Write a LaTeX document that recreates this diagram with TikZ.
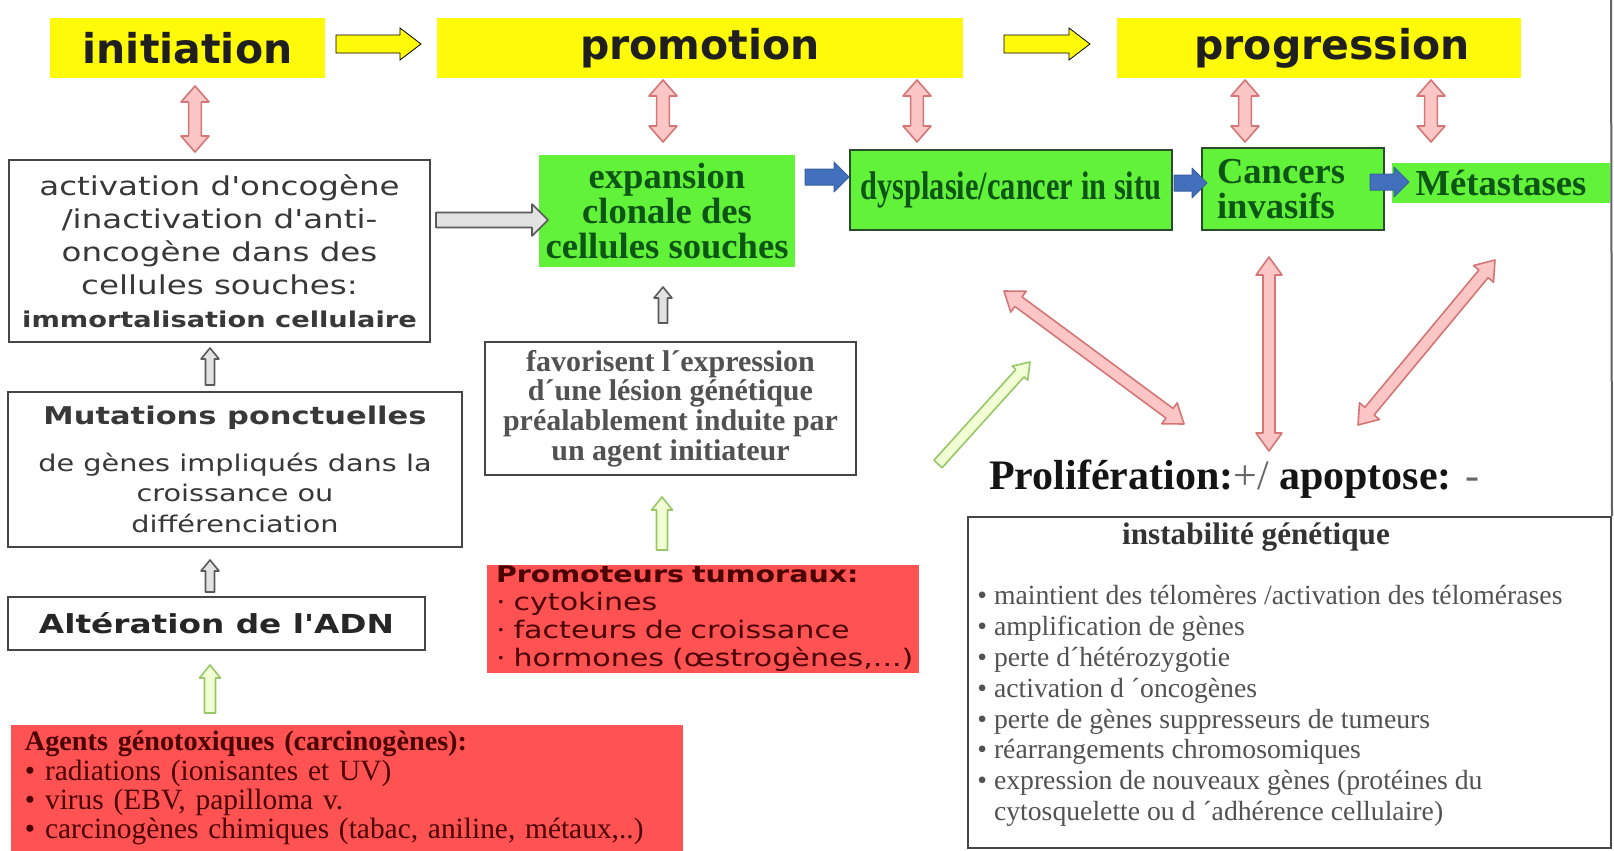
\documentclass[tikz,border=0pt]{standalone}
\usepackage{fontspec}
\usepackage{graphicx}
\setmainfont{Liberation Serif}
\newfontfamily\comic[FakeStretch=1.25]{DejaVu Sans}
\newfontfamily\stagefont{DejaVu Sans}
\usetikzlibrary{calc}

\definecolor{ylw}{RGB}{255,250,10}
\definecolor{grn}{RGB}{98,242,58}
\definecolor{dgrn}{RGB}{12,85,20}
\definecolor{gline}{RGB}{45,75,45}
\definecolor{redbox}{RGB}{255,82,82}
\definecolor{redtext}{RGB}{75,0,0}
\definecolor{pinkfill}{RGB}{252,198,198}
\definecolor{pinkline}{RGB}{212,118,118}
\definecolor{lgfill}{RGB}{242,255,212}
\definecolor{lgline}{RGB}{150,200,105}
\definecolor{grayfill}{RGB}{226,226,226}
\definecolor{grayline}{RGB}{90,90,90}
\definecolor{bluefill}{RGB}{66,112,188}
\definecolor{boxline}{RGB}{70,70,70}

% straight block arrow: style, tail, tip, shaft half width, head half width, head length
\newcommand{\blkarrow}[6]{%
  \coordinate (ba-neck) at ($(#3)!#6!(#2)$);
  \draw[#1] ($(#2)!#4!90:(#3)$) -- ($(ba-neck)!#4!-90:(#2)$) -- ($(ba-neck)!#5!-90:(#2)$)
    -- (#3) -- ($(ba-neck)!#5!90:(#2)$) -- ($(ba-neck)!#4!90:(#2)$)
    -- ($(#2)!#4!-90:(#3)$) -- cycle;
}
% two-headed block arrow: style, end, end, shaft half width, head half width, head length
\newcommand{\dblkarrow}[6]{%
  \coordinate (da-n1) at ($(#2)!#6!(#3)$);
  \coordinate (da-n2) at ($(#3)!#6!(#2)$);
  \draw[#1] (#2) -- ($(da-n1)!#5!90:(#3)$) -- ($(da-n1)!#4!90:(#3)$)
    -- ($(da-n2)!#4!-90:(#2)$) -- ($(da-n2)!#5!-90:(#2)$) -- (#3)
    -- ($(da-n2)!#5!90:(#2)$) -- ($(da-n2)!#4!90:(#2)$)
    -- ($(da-n1)!#4!-90:(#3)$) -- ($(da-n1)!#5!-90:(#3)$) -- cycle;
}

\tikzset{
  stage/.style={fill=ylw, inner sep=0pt, minimum height=30pt, text=black!88,
    font=\stagefont\bfseries\fontsize{20.5}{22}\selectfont},
  wbox/.style={draw=boxline, line width=1pt, fill=white, inner sep=0pt, align=center},
  gbox/.style={fill=grn, text=dgrn, inner sep=0pt, align=center,
    font=\bfseries\fontsize{18.3}{17.3}\selectfont},
  rbox/.style={fill=redbox, inner sep=0pt, align=left},
  pinkarr/.style={fill=pinkfill, draw=pinkline, line width=0.8pt, line join=round},
  grayarr/.style={fill=grayfill, draw=grayline, line width=0.8pt, line join=round},
  lgarr/.style={fill=lgfill, draw=lgline, line width=0.8pt, line join=round},
  bluearr/.style={fill=bluefill, draw=bluefill!85!black, line width=0.5pt, line join=round},
  ylwarr/.style={fill=ylw},
}

\begin{document}
\begin{tikzpicture}[x=0.5pt, y=-0.5pt]
\useasboundingbox (0,0) rectangle (1614,851);
\fill[white] (0,0) rectangle (1614,851);

% --- the three stages ---
\node[stage, minimum width=137.5pt] (init) at (187.5,48) {initiation};
\node[stage, minimum width=263pt] (promo) at (700,48) {promotion};
\node[stage, minimum width=202pt] (progr) at (1319,48) {\hspace*{13pt}progression};

% --- initiation column ---
\node[wbox, minimum width=210.5pt, minimum height=91pt, text=black!78,
      font=\comic\fontsize{13}{16.5}\selectfont] (act) at (219.5,251)
  {activation d'oncogène\\/inactivation d'anti-\\oncogène dans des\\cellules souches:\\
   {\bfseries\fontsize{10.9}{16.5}\selectfont immortalisation cellulaire}};
\node[wbox, minimum width=227pt, minimum height=77.5pt, text=black!78,
      font=\comic\fontsize{11.5}{15.25}\selectfont] (mut) at (235,469.5)
  {{\bfseries\fontsize{12.2}{15.25}\selectfont Mutations ponctuelles}\\[8pt]
   de gènes impliqués dans la\\croissance ou\\différenciation};
\node[wbox, minimum width=208.5pt, minimum height=26.5pt, text=black!85,
      font=\comic\bfseries\fontsize{13.1}{15}\selectfont] (alt) at (216.5,623.5)
  {Altération de l'ADN};
\node[rbox, minimum width=336pt, minimum height=63pt, inner xsep=7pt, text width=322pt,
      text=redtext, font=\fontsize{14.7}{14.6}\selectfont] (agents) at (347,788)
  {{\bfseries\fontsize{14.1}{14.6}\selectfont Agents génotoxiques (carcinogènes):}\\
   • radiations (ionisantes et UV)\\
   • virus (EBV, papilloma v.\\
   • carcinogènes chimiques (tabac, aniline, métaux,..)};

% --- promotion column ---
\node[gbox, minimum width=128pt, minimum height=56pt] (exp) at (667,211)
  {expansion\\clonale des\\cellules souches};
\node[wbox, minimum width=185.5pt, minimum height=66.5pt, text=black!68,
      font=\bfseries\fontsize{15}{14.8}\selectfont] (fav) at (670.5,408.5)
  {favorisent l´expression\\d´une lésion génétique\\préalablement induite par\\un agent initiateur};
\node[rbox, minimum width=216pt, minimum height=54pt, inner xsep=4.5pt, text width=207pt,
      text=redtext, font=\comic\fontsize{12.05}{14}\selectfont] (tum) at (703,619)
  {{\bfseries\fontsize{11.4}{14}\selectfont Promoteurs tumoraux:}\\
   \mbox{· cytokines}\\\mbox{· facteurs de croissance}\\\mbox{· hormones (œstrogènes,...)}};

% --- progression column ---
\node[gbox, draw=gline, line width=1pt, minimum width=161pt, minimum height=40pt,
      font=\bfseries\fontsize{20}{22}\selectfont] (dys) at (1011,190)
  {\scalebox{0.76}[1]{dysplasie/cancer in situ}};
\node[gbox, draw=gline, line width=1pt, minimum width=91pt, minimum height=41pt,
      inner xsep=7.5pt, text width=76pt, align=left] (canc) at (1293,189)
  {Cancers\\invasifs};
\node[gbox, minimum width=109pt, minimum height=20pt] (meta) at (1501,183) {Métastases};

\node[font=\bfseries\fontsize{21}{24}\selectfont, text=black!92] (prolif) at (1234.5,479)
  {Prolifération:{\mdseries\color{black!60}+/} apoptose: {\mdseries\color{black!60}-}};

\node[draw=boxline, line width=1pt, minimum width=321.5pt, minimum height=165.5pt,
      inner sep=0pt] (instab) at (1289.5,682.5) {};
\node[font=\bfseries\fontsize{15.6}{18}\selectfont, text=black!80] (instabtitle) at (1256,537)
  {instabilité génétique};
\node[anchor=west, align=left, inner sep=0pt, text=black!68,
      font=\fontsize{13.85}{15.45}\selectfont] (instablist) at (977,706)
  {• maintient des télomères /activation des télomérases\\
   • amplification de gènes\\
   • perte d´hétérozygotie\\
   • activation d ´oncogènes\\
   • perte de gènes suppresseurs de tumeurs\\
   • réarrangements chromosomiques\\
   • expression de nouveaux gènes (protéines du\\
   \hphantom{•~}cytosquelette ou d ´adhérence cellulaire)};

% frame edge reaching down to the instability box
\coordinate (frametop) at (1611,0);
\draw[boxline!85, line width=1pt] (frametop) -- (instab.north east);

% --- arrow end points ---
\coordinate (y1a) at (336,44);  \coordinate (y1b) at (421,44);
\coordinate (y2a) at (1004,44); \coordinate (y2b) at (1090,44);
\coordinate (p1a) at (195,86);  \coordinate (p1b) at (195,152);
\coordinate (p2a) at (663,80);  \coordinate (p2b) at (663,142);
\coordinate (p3a) at (917,80);  \coordinate (p3b) at (917,142);
\coordinate (p4a) at (1245,80); \coordinate (p4b) at (1245,142);
\coordinate (p5a) at (1431,80); \coordinate (p5b) at (1431,142);
\coordinate (g1a) at (436,220); \coordinate (g1b) at (548,220);
\coordinate (g2a) at (210,385); \coordinate (g2b) at (210,348);
\coordinate (g3a) at (210,592); \coordinate (g3b) at (210,560);
\coordinate (g4a) at (663,323); \coordinate (g4b) at (663,287);
\coordinate (l1a) at (210,713); \coordinate (l1b) at (210,665);
\coordinate (l2a) at (662,550); \coordinate (l2b) at (662,497);
\coordinate (l3a) at (938,464); \coordinate (l3b) at (1030,362);
\coordinate (b1a) at (805,177); \coordinate (b1b) at (849,177);
\coordinate (b2a) at (1174,183); \coordinate (b2b) at (1207,183);
\coordinate (b3a) at (1370,182); \coordinate (b3b) at (1409,182);
\coordinate (d1a) at (1004,291); \coordinate (d1b) at (1184,424);
\coordinate (d2a) at (1269,257); \coordinate (d2b) at (1269,451);
\coordinate (d3a) at (1495,260); \coordinate (d3b) at (1358,425);

% stage sequence
\blkarrow{ylwarr}{y1a}{y1b}{4.5pt}{8pt}{10.5pt}
\blkarrow{ylwarr}{y2a}{y2b}{4.5pt}{8pt}{10.5pt}

% stage <-> event links
\dblkarrow{pinkarr}{p1a}{p1b}{3.2pt}{7pt}{8pt}
\dblkarrow{pinkarr}{p2a}{p2b}{3.2pt}{7pt}{8pt}
\dblkarrow{pinkarr}{p3a}{p3b}{3.2pt}{7pt}{8pt}
\dblkarrow{pinkarr}{p4a}{p4b}{3.2pt}{7pt}{8pt}
\dblkarrow{pinkarr}{p5a}{p5b}{3.2pt}{7pt}{8pt}

% causal chain
\blkarrow{grayarr}{g1a}{g1b}{3.75pt}{8pt}{8pt}
\blkarrow{grayarr}{g2a}{g2b}{2.25pt}{4.5pt}{5.5pt}
\blkarrow{grayarr}{g3a}{g3b}{2.25pt}{4.5pt}{5.5pt}
\blkarrow{grayarr}{g4a}{g4b}{2.25pt}{4.5pt}{5.5pt}

% external agents
\blkarrow{lgarr}{l1a}{l1b}{2.75pt}{5.25pt}{6.5pt}
\blkarrow{lgarr}{l2a}{l2b}{2.75pt}{5.25pt}{6.5pt}
\blkarrow{lgarr}{l3a}{l3b}{2.75pt}{5.25pt}{7.5pt}

% lesion progression
\blkarrow{bluearr}{b1a}{b1b}{4pt}{7.5pt}{7.5pt}
\blkarrow{bluearr}{b2a}{b2b}{4pt}{7.5pt}{7.5pt}
\blkarrow{bluearr}{b3a}{b3b}{4pt}{7.5pt}{7.5pt}

% proliferation / apoptosis links
\dblkarrow{pinkarr}{d1a}{d1b}{3pt}{6.5pt}{9pt}
\dblkarrow{pinkarr}{d2a}{d2b}{3pt}{6.5pt}{9pt}
\dblkarrow{pinkarr}{d3a}{d3b}{3pt}{6.5pt}{9pt}
\end{tikzpicture}
\end{document}
